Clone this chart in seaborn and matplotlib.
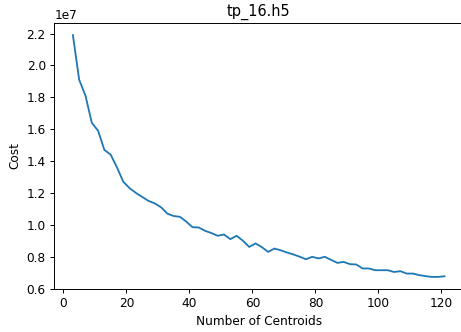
import numpy as np
import pandas as pd
import matplotlib
matplotlib.use('Agg')
import matplotlib.pyplot as plt
import seaborn as sns

# number of centroids tried (odd values 3..121)
n_centroids = list(range(3, 122, 2))

# clustering cost, in units of 1e7
cost_1e7 = [2.19, 1.91, 1.81, 1.64, 1.59, 1.47, 1.44, 1.36, 1.27, 1.23,
            1.20, 1.175, 1.15, 1.134, 1.11, 1.07, 1.055, 1.05, 1.02, 0.985,
            0.983, 0.962, 0.948, 0.931, 0.939, 0.91, 0.931, 0.90, 0.861, 0.883,
            0.86, 0.83, 0.851, 0.84, 0.826, 0.814, 0.80, 0.784, 0.799, 0.789,
            0.799, 0.78, 0.761, 0.767, 0.753, 0.751, 0.726, 0.726, 0.715, 0.715,
            0.715, 0.704, 0.709, 0.694, 0.694, 0.684, 0.678, 0.673, 0.673, 0.677]

df = pd.DataFrame({'k': n_centroids, 'cost': np.array(cost_1e7) * 1e7})

dpi = 87
fig = plt.figure(figsize=(461 / dpi, 332 / dpi), dpi=dpi)
ax = fig.add_axes([0.1178, 0.1295, 0.8866, 0.8012])

sns.lineplot(data=df, x='k', y='cost', ax=ax)

ax.set_title('tp_16.h5')
ax.set_xlabel('Number of Centroids')
ax.set_ylabel('Cost')

plt.savefig('out.png', dpi=dpi)
